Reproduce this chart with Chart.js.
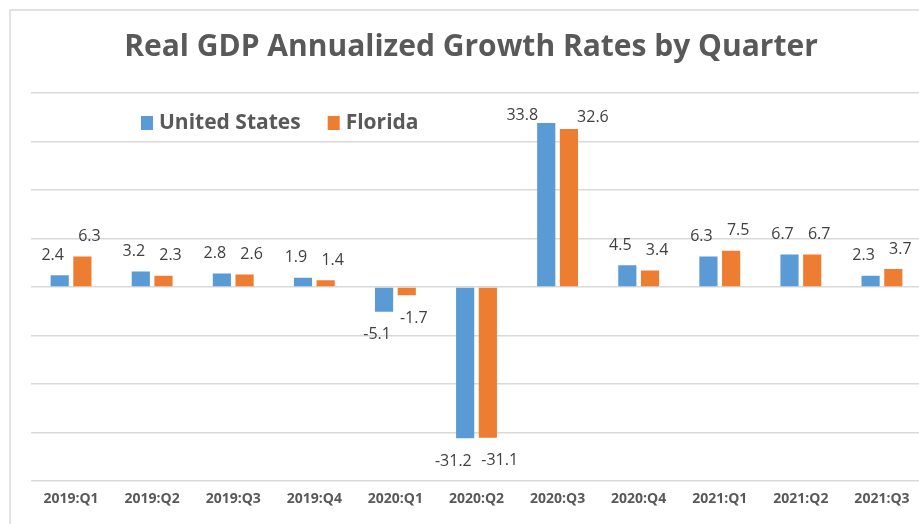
<!DOCTYPE html>
<html>
<head>
<meta charset="utf-8">
<script src="https://cdn.jsdelivr.net/npm/chart.js@4/dist/chart.umd.min.js"></script>
<style>
  html, body { margin: 0; padding: 0; background: #fff; overflow: hidden; }
  #wrap { width: 919px; height: 524px; overflow: hidden; }
</style>
</head>
<body>
<div id="wrap"><canvas id="gdp" width="930" height="524"></canvas></div>
<script>
var quarters = ['2019:Q1', '2019:Q2', '2019:Q3', '2019:Q4', '2020:Q1', '2020:Q2',
                '2020:Q3', '2020:Q4', '2021:Q1', '2021:Q2', '2021:Q3'];
var usGrowth = [2.4, 3.2, 2.8, 1.9, -5.1, -31.2, 33.8, 4.5, 6.3, 6.7, 2.3];
var flGrowth = [6.3, 2.3, 2.6, 1.4, -1.7, -31.1, 32.6, 3.4, 7.5, 6.7, 3.7];
var seriesNames = ['United States', 'Florida'];
var titleText = 'Real GDP Annualized Growth Rates by Quarter';

var blue = '#5B9BD5';
var orange = '#ED7D31';
var fontFam = "'Open Sans', 'Noto Sans', sans-serif";

// frame, title, legend and value labels are drawn by hand
var extras = {
  id: 'extras',
  beforeDraw: function(chart) {
    var ctx = chart.ctx;
    ctx.save();
    ctx.strokeStyle = '#d9d9d9';
    ctx.lineWidth = 1.5;
    ctx.strokeRect(10, 10, 1000, 1000);
    ctx.restore();
  },
  afterDatasetsDraw: function(chart) {
    var ctx = chart.ctx;
    var area = chart.chartArea;
    ctx.save();

    // title
    ctx.fillStyle = '#595959';
    ctx.font = "bold 30px " + fontFam;
    ctx.textAlign = 'center';
    ctx.textBaseline = 'middle';
    ctx.fillText(titleText, 471, 47);

    // legend
    ctx.font = "bold 21px " + fontFam;
    ctx.textAlign = 'left';
    var lx = 141;
    chart.data.datasets.forEach(function(ds) {
      ctx.fillStyle = ds.backgroundColor;
      ctx.fillRect(lx, 116, 12, 14);
      ctx.fillStyle = '#595959';
      ctx.fillText(ds.label, lx + 18, 123);
      lx += 18 + ctx.measureText(ds.label).width + 27;
    });

    // value labels
    ctx.font = "16px " + fontFam;
    ctx.fillStyle = '#404040';
    ctx.textAlign = 'center';
    chart.data.datasets.forEach(function(ds, di) {
      var meta = chart.getDatasetMeta(di);
      var side = di === 0 ? -1 : 1;
      meta.data.forEach(function(bar, i) {
        var v = ds.data[i];
        var txt = v.toFixed(1);
        var w = ctx.measureText(txt).width;
        var dx = side * (7 + Math.max(0, w - 32));
        var y;
        if (v >= 0) {
          y = bar.y - 20;
          if (y < area.top + 18) {
            y = area.top + 22 + di * 2;
            dx = side * 24;
          }
        } else {
          y = bar.y + 23;
        }
        ctx.fillText(txt, bar.x + dx, y);
      });
    });
    ctx.restore();
  }
};

new Chart(document.getElementById('gdp'), {
  type: 'bar',
  data: {
    labels: quarters,
    datasets: [
      { label: seriesNames[0], data: usGrowth, backgroundColor: blue },
      { label: seriesNames[1], data: flGrowth, backgroundColor: orange }
    ]
  },
  options: {
    responsive: false,
    animation: false,
    categoryPercentage: 0.56,
    barPercentage: 0.8,
    layout: { padding: { left: 30.5, right: 7.5, top: 93, bottom: 0 } },
    plugins: {
      legend: { display: false },
      title: { display: false },
      tooltip: { enabled: false }
    },
    scales: {
      x: {
        grid: { display: false, drawTicks: false },
        border: { display: false },
        ticks: {
          color: '#595959',
          font: { family: fontFam, size: 14, weight: 'bold' },
          padding: 10,
          maxRotation: 0,
          autoSkip: false
        },
        afterFit: function(scale) { scale.height = 43; }
      },
      y: {
        min: -40,
        max: 40,
        ticks: { display: false, stepSize: 10 },
        grid: { color: '#d9d9d9', lineWidth: 1.5, drawTicks: false },
        border: { display: false },
        afterFit: function(scale) { scale.width = 0; }
      }
    }
  },
  plugins: [extras]
});
</script>
</body>
</html>
